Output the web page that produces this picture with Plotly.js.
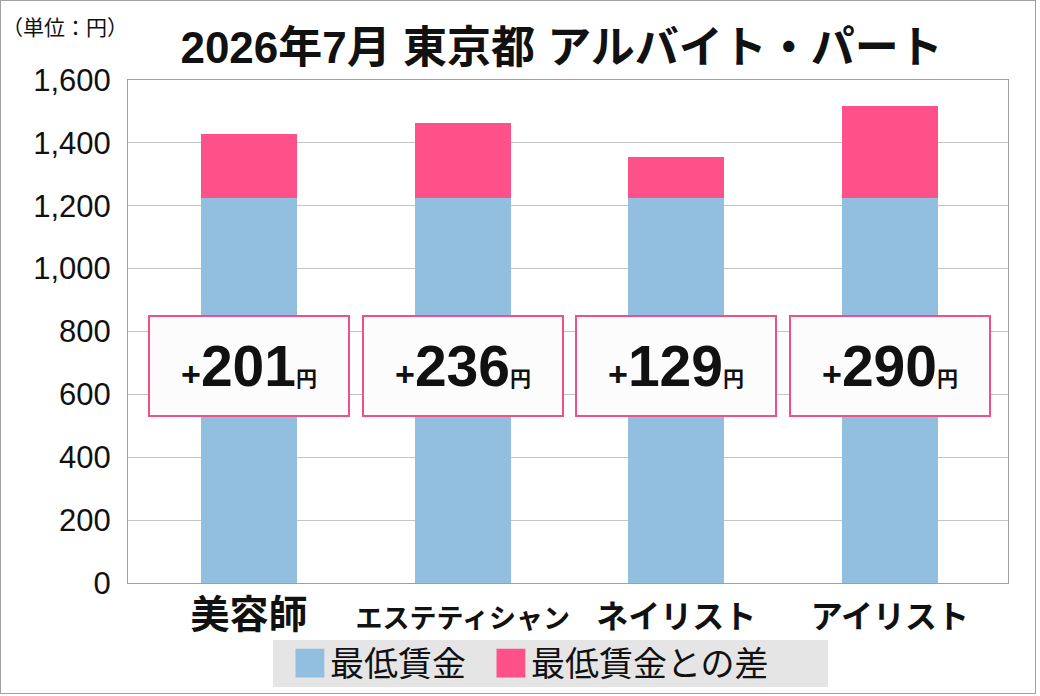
<!DOCTYPE html>
<html>
<head>
<meta charset="utf-8">
<script src="https://cdn.plot.ly/plotly-3.0.1.min.js"></script>
<style>
  body { margin: 0; background: #fff; }
  #wrap { position: relative; width: 1040px; height: 696px; }
  #chart { width: 1040px; height: 696px; }
  #frame { position: absolute; left: 0; top: 0; width: 1034px; height: 692px; border: 1px solid #a0a0a0; pointer-events: none; }
</style>
</head>
<body>
<div id="wrap">
  <div id="chart"></div>
  <div id="frame"></div>
</div>
<script>
// values
var categories = ["美容師", "エステティシャン", "ネイリスト", "アイリスト"];
var minimumWage = [1226, 1226, 1226, 1226];
var wageGap = [201, 236, 129, 290];
var seriesNames = ["最低賃金", "最低賃金との差"];
var yTicks = [0, 200, 400, 600, 800, 1000, 1200, 1400, 1600];

var blue = "#92bedf";
var pink = "#fe5089";
var jpFont = "Liberation Sans, Arial, Noto Sans CJK JP, sans-serif";

var baseTrace =
{
    x: categories,
    y: minimumWage,
    name: seriesNames[0],
    type: "bar",
    width: 0.45,
    legendwidth: 156,
    marker: { color: blue },
    hoverinfo: "skip"
};

var gapTrace =
{
    x: categories,
    y: wageGap,
    name: seriesNames[1],
    type: "bar",
    width: 0.45,
    marker: { color: pink },
    hoverinfo: "skip"
};

// katakana is set narrower than kanji in the original, the long one even more
var tickText = categories.map(function (c)
{
    var size = 32;
    if (c.length > 6) size = 27;
    else if (c.length <= 3) size = 39;
    return '<span style="font-size:' + size + 'px">' + c + '</span>';
});

// boxed "+xxx円" labels over the bars
var labelY = 690;
var annotations = categories.map(function (c, i)
{
    return {
        x: c,
        y: labelY,
        xref: "x",
        yref: "y",
        text: '<b><span style="font-size:34px">+</span>' + wageGap[i] + '<span style="font-size:21px">円</span></b>',
        showarrow: false,
        font: { family: jpFont, size: 57, color: "#111" },
        width: 198,
        height: 98,
        borderpad: 0,
        bgcolor: "#fcfcfc",
        bordercolor: "#f0508a",
        borderwidth: 2,
        align: "center",
        valign: "middle"
    };
});

annotations.push(
{
    text: "（単位：円）",
    xref: "paper",
    yref: "paper",
    x: -0.145,
    y: 1.108,
    xanchor: "left",
    yanchor: "middle",
    showarrow: false,
    font: { family: "Noto Sans CJK JP, sans-serif", size: 21, color: "#111" }
});

var layout =
{
    width: 1040,
    height: 696,
    margin: { l: 128, r: 32, t: 80, b: 113, autoexpand: false },
    paper_bgcolor: "rgba(0,0,0,0)",
    plot_bgcolor: "#ffffff",
    barmode: "stack",
    showlegend: true,
    title:
    {
        text: "<b>2026年7月 東京都 アルバイト・パート</b>",
        font: { family: jpFont, size: 44, color: "#111" },
        xref: "container",
        yref: "container",
        x: 0.54,
        xanchor: "center",
        y: 0.932,
        yanchor: "middle"
    },
    xaxis:
    {
        type: "category",
        range: [-0.567, 3.553],
        tickvals: categories,
        ticktext: tickText,
        tickfont: { family: "Noto Sans CJK JP, sans-serif", size: 35, color: "#111", weight: "bold" },
        showline: true,
        mirror: true,
        linecolor: "#a0a0a0",
        linewidth: 1,
        showgrid: false,
        ticks: "",
        ticklabelstandoff: 2
    },
    yaxis:
    {
        range: [0, 1600],
        tickvals: yTicks,
        tickformat: ",d",
        tickfont: { family: "Liberation Sans, Arial, sans-serif", size: 31, color: "#111" },
        showline: true,
        mirror: true,
        linecolor: "#a0a0a0",
        linewidth: 1,
        gridcolor: "#c4c4c4",
        gridwidth: 1,
        zeroline: false,
        ticks: "",
        ticklabelstandoff: 10
    },
    legend:
    {
        orientation: "h",
        traceorder: "normal",
        x: 0.184,
        xanchor: "left",
        y: -0.160,
        yanchor: "middle",
        bgcolor: "rgba(0,0,0,0)",
        borderwidth: 0,
        font: { family: "Noto Sans CJK JP, sans-serif", size: 34, color: "#111" },
        itemclick: false,
        itemdoubleclick: false
    },
    // grey panel behind the legend
    shapes: [
        {
            type: "rect",
            xref: "paper",
            yref: "paper",
            x0: 0.1648,
            x1: 0.7955,
            y0: -0.2068,
            y1: -0.1133,
            fillcolor: "#e5e5e5",
            line: { width: 0 },
            layer: "below"
        }
    ],
    annotations: annotations
};

var config = { staticPlot: true, displayModeBar: false };

Plotly.newPlot("chart", [baseTrace, gapTrace], layout, config).then(function (gd)
{
    // the original uses much bigger legend swatches than plotly's default
    gd.querySelectorAll(".legend .legendpoints path").forEach(function (p)
    {
        var t = p.getAttribute("transform") || "";
        p.setAttribute("transform", t + " scale(2.4)");
    });
});
</script>
</body>
</html>
